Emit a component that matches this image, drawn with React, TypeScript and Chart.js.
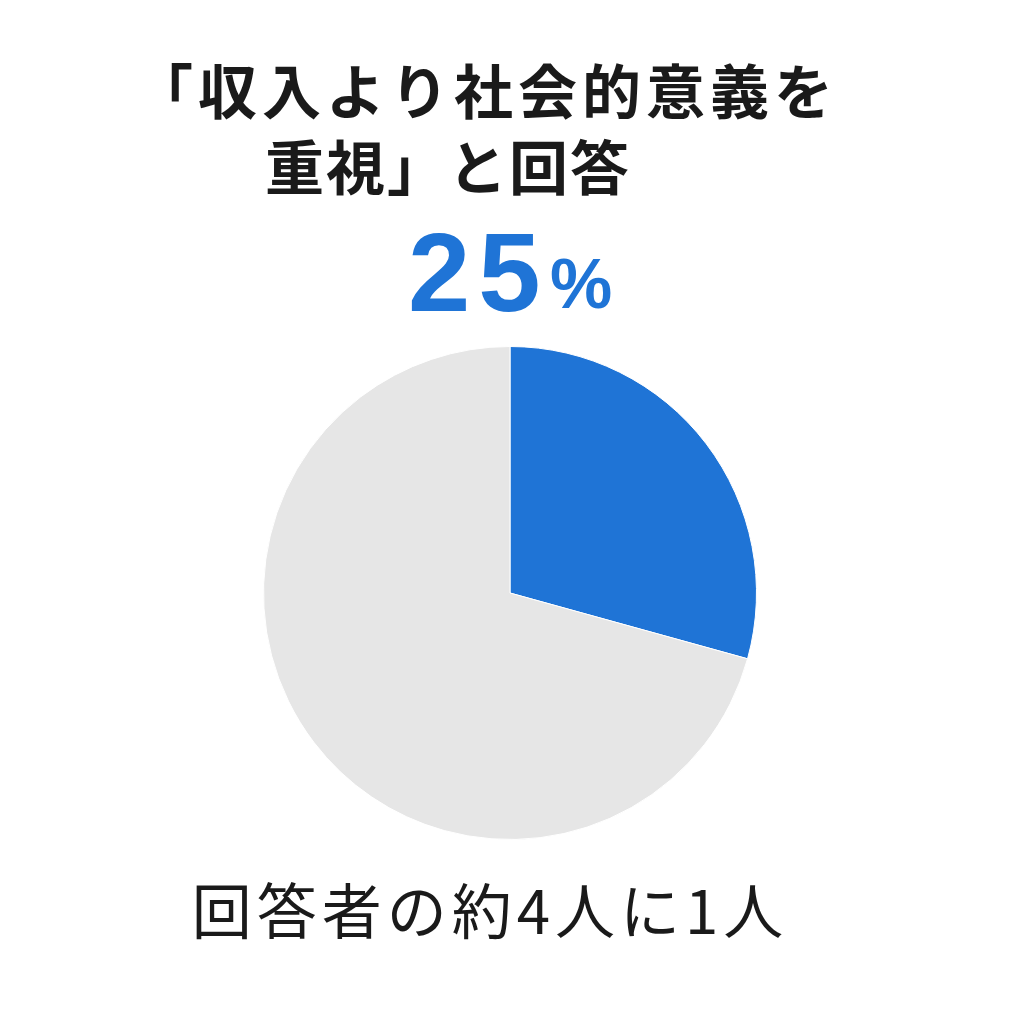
import React, { useEffect, useRef } from "react";
import { Chart, registerables } from "chart.js";

Chart.register(...registerables);

const categories = ["収入より社会的意義を重視", "その他"];
const seriesValues = [29.3, 70.7];
const sliceColors = ["#1f74d6", "#e6e6e6"];
const titleLines = ["「収入より社会的意義を", "重視」と回答"];
const headlineNumber = "25";
const headlineUnit = "%";
const footerText = "回答者の約4人に1人";

const textPlugin = {
  id: "textOverlay",
  afterDraw(chart: any) {
    const ctx = chart.ctx as CanvasRenderingContext2D;
    ctx.save();
    ctx.fillStyle = "#1a1a1a";
    ctx.textBaseline = "middle";
    ctx.textAlign = "left";
    ctx.font = "bold 59px 'Noto Sans CJK JP', 'Noto Sans', sans-serif";
    (ctx as any).letterSpacing = "5px";
    ctx.fillText(titleLines[0], 134, 92);
    (ctx as any).letterSpacing = "2px";
    ctx.fillText(titleLines[1], 265, 168);

    // headline percentage
    (ctx as any).letterSpacing = "8px";
    ctx.fillStyle = "#1f74d6";
    ctx.textBaseline = "alphabetic";
    ctx.font = "bold 112px 'Liberation Sans', Arial, sans-serif";
    ctx.fillText(headlineNumber, 408, 311);
    ctx.font = "bold 70px 'Liberation Sans', Arial, sans-serif";
    (ctx as any).letterSpacing = "0px";
    ctx.fillText(headlineUnit, 550, 308);

    // footer
    ctx.fillStyle = "#1a1a1a";
    ctx.textBaseline = "middle";
    ctx.font = "normal 60px 'Noto Sans CJK JP', 'Noto Sans', sans-serif";
    (ctx as any).letterSpacing = "5px";
    const w = ctx.measureText(footerText).width;
    ctx.fillText(footerText, 490 - w / 2, 911);
    ctx.restore();
  },
};

export default function App() {
  const ref = useRef<HTMLCanvasElement | null>(null);
  useEffect(() => {
    if (!ref.current) return;
    const chart = new Chart(ref.current, {
      type: "pie",
      data: {
        labels: categories,
        datasets: [
          {
            data: seriesValues,
            backgroundColor: sliceColors,
            borderColor: "#ffffff",
            borderWidth: 1,
          },
        ],
      },
      options: {
        animation: false,
        responsive: false,
        devicePixelRatio: 1,
        layout: { padding: { top: 346, bottom: 184, left: 263, right: 267 } },
        plugins: {
          legend: { display: false },
          tooltip: { enabled: false },
          title: { display: false },
        },
      },
      plugins: [textPlugin],
    });
    return () => chart.destroy();
  }, []);
  return (
    <div style={{ position: "fixed", left: 0, top: 0, width: 1024, height: 1024, background: "#ffffff" }}>
      <canvas ref={ref} width={1024} height={1024} style={{ width: 1024, height: 1024 }} />
    </div>
  );
}
